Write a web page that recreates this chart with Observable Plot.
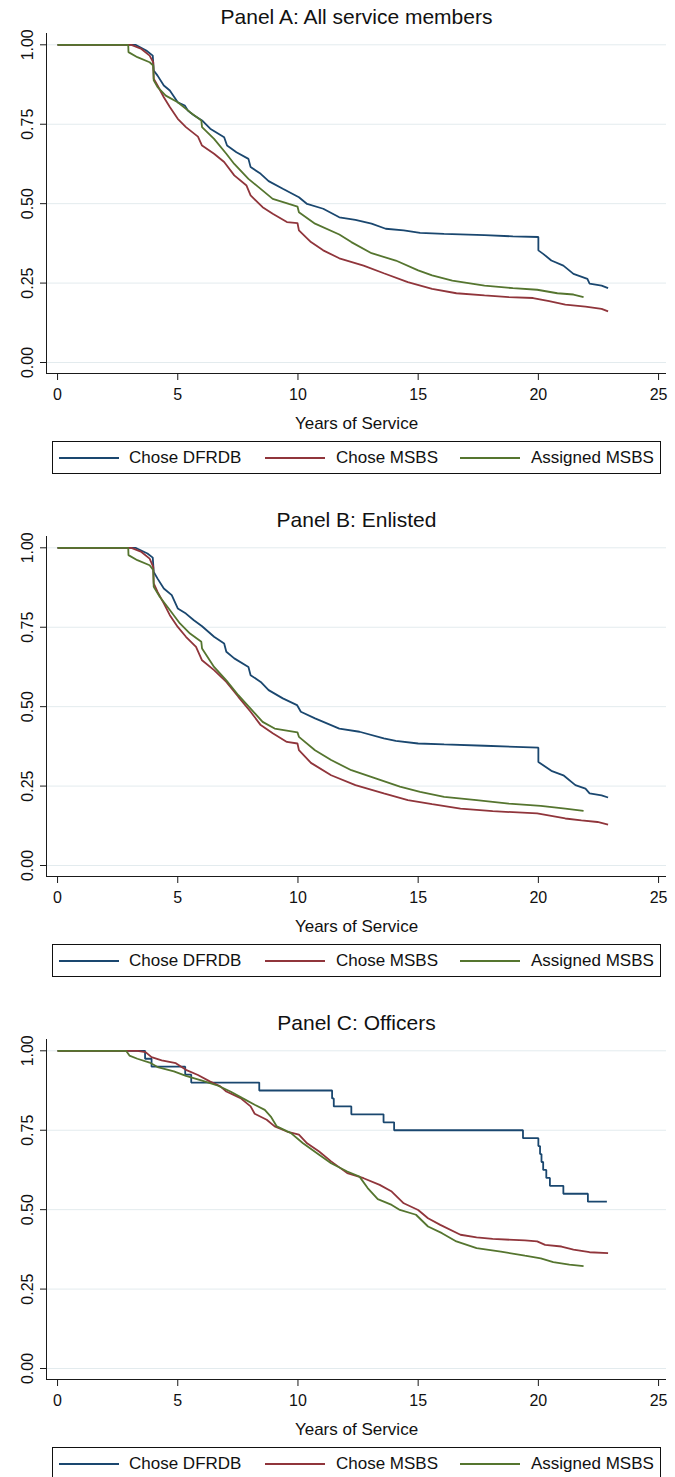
<!DOCTYPE html>
<html><head><meta charset="utf-8">
<script src="https://cdn.jsdelivr.net/npm/d3@7"></script>
<script src="https://cdn.jsdelivr.net/npm/@observablehq/plot@0.6"></script>
<style>
html,body{margin:0;padding:0;background:#fff;width:675px;height:1477px;overflow:hidden;}
body{font-family:"Liberation Sans",Arial,Helvetica,sans-serif;color:#111;}
.panel{position:relative;width:675px;height:503px;}
.title{height:33px;line-height:33px;font-size:21px;text-align:center;padding-left:38px;box-sizing:border-box;white-space:nowrap;}
.plot svg{display:block;}
.legend{position:absolute;left:52px;top:441px;width:609px;height:33px;border:1px solid #111;box-sizing:border-box;}
.legend .sw{position:absolute;top:15px;height:1.6px;}
.legend .lb{position:absolute;top:0;line-height:31px;font-size:17px;white-space:nowrap;}
</style></head><body><div id="root"></div>
<script>
const panelTitles = ["Panel A: All service members", "Panel B: Enlisted", "Panel C: Officers"];
const seriesNames = ["Chose DFRDB", "Chose MSBS", "Assigned MSBS"];
const xTicks = [0, 5, 10, 15, 20, 25];
const yTicks = [0, 0.25, 0.5, 0.75, 1];
const xAxisTitle = "Years of Service";

// Panel A: All service members
const aDfrdbT = [0, 3.24, 3.69, 3.96, 4.0, 4.16, 4.42, 4.67, 5.0, 5.29, 5.42, 5.67, 6.01, 6.35, 6.93, 7.05, 7.44, 7.94, 8.03, 8.45, 8.78, 9.37, 10.04, 10.38, 11.05, 11.72, 12.39, 13.06, 13.65, 14.4, 15.08, 16.08, 17.76, 18.94, 20.0, 20.0, 20.2, 20.54, 21.04, 21.46, 22.04, 22.13, 22.63, 22.9];
const aDfrdbS = [1, 1, 0.982, 0.966, 0.919, 0.903, 0.872, 0.856, 0.819, 0.809, 0.793, 0.778, 0.762, 0.736, 0.709, 0.683, 0.662, 0.641, 0.615, 0.594, 0.571, 0.547, 0.520, 0.499, 0.484, 0.457, 0.449, 0.437, 0.421, 0.416, 0.408, 0.405, 0.401, 0.397, 0.395, 0.353, 0.342, 0.321, 0.305, 0.279, 0.263, 0.248, 0.242, 0.234];
const aChoseT = [0, 3.07, 3.49, 3.83, 3.98, 4.0, 4.16, 4.42, 4.67, 5.0, 5.34, 5.84, 6.01, 6.51, 6.93, 7.35, 7.86, 8.03, 8.53, 8.95, 9.54, 9.98, 10.04, 10.54, 11.05, 11.72, 12.73, 13.57, 14.57, 15.58, 16.59, 17.76, 18.77, 19.78, 20.45, 21.12, 21.96, 22.63, 22.9];
const aChoseS = [1, 1, 0.987, 0.966, 0.945, 0.893, 0.872, 0.835, 0.804, 0.767, 0.741, 0.711, 0.683, 0.657, 0.631, 0.589, 0.557, 0.526, 0.489, 0.468, 0.442, 0.439, 0.416, 0.379, 0.353, 0.328, 0.305, 0.281, 0.253, 0.232, 0.218, 0.211, 0.206, 0.203, 0.193, 0.182, 0.176, 0.169, 0.161];
const aAssignT = [0, 2.94, 2.95, 3.32, 3.83, 3.98, 4.0, 4.16, 4.5, 5.0, 5.51, 5.98, 6.01, 6.51, 7.02, 7.35, 7.94, 8.36, 8.95, 9.62, 9.98, 10.04, 10.71, 11.72, 12.22, 13.06, 14.07, 15.0, 15.58, 16.42, 17.76, 18.94, 19.95, 20.79, 21.46, 21.88];
const aAssignS = [1, 1, 0.977, 0.961, 0.945, 0.935, 0.888, 0.867, 0.84, 0.819, 0.788, 0.762, 0.741, 0.704, 0.657, 0.625, 0.578, 0.552, 0.515, 0.499, 0.491, 0.473, 0.437, 0.403, 0.379, 0.344, 0.321, 0.29, 0.274, 0.258, 0.242, 0.234, 0.229, 0.218, 0.214, 0.206];

// Panel B: Enlisted
const bDfrdbT = [0, 3.24, 3.74, 3.96, 4.0, 4.16, 4.42, 4.75, 5.0, 5.34, 5.67, 6.01, 6.51, 6.93, 7.02, 7.35, 7.94, 8.03, 8.45, 8.78, 9.37, 9.96, 10.12, 10.71, 11.72, 12.56, 13.57, 14.07, 15.0, 16.08, 17.76, 20.0, 20.0, 20.54, 21.04, 21.54, 21.96, 22.13, 22.63, 22.9];
const bDfrdbS = [1, 1, 0.982, 0.969, 0.924, 0.903, 0.872, 0.851, 0.809, 0.793, 0.772, 0.753, 0.72, 0.699, 0.673, 0.652, 0.625, 0.599, 0.578, 0.552, 0.526, 0.505, 0.484, 0.463, 0.431, 0.421, 0.4, 0.392, 0.384, 0.381, 0.377, 0.371, 0.326, 0.298, 0.284, 0.253, 0.242, 0.227, 0.221, 0.214];
const bChoseT = [0, 3.07, 3.49, 3.83, 3.98, 4.0, 4.16, 4.42, 4.67, 5.0, 5.34, 5.76, 6.01, 6.51, 7.02, 7.52, 8.03, 8.45, 8.95, 9.54, 9.98, 10.04, 10.54, 11.38, 12.39, 13.57, 14.57, 15.58, 16.76, 18.1, 19.95, 21.12, 21.79, 22.46, 22.9];
const bChoseS = [1, 1, 0.987, 0.966, 0.94, 0.888, 0.861, 0.825, 0.788, 0.751, 0.72, 0.688, 0.646, 0.615, 0.578, 0.531, 0.484, 0.442, 0.416, 0.389, 0.384, 0.363, 0.323, 0.284, 0.253, 0.227, 0.206, 0.193, 0.179, 0.171, 0.164, 0.148, 0.142, 0.137, 0.129];
const bAssignT = [0, 2.94, 2.95, 3.32, 3.83, 3.98, 4.0, 4.25, 4.67, 5.09, 5.51, 5.98, 6.01, 6.51, 7.02, 7.52, 8.03, 8.53, 9.03, 9.98, 10.04, 10.71, 11.38, 12.22, 13.23, 14.24, 15.08, 16.08, 17.43, 18.77, 20.1, 21.12, 21.88];
const bAssignS = [1, 1, 0.977, 0.961, 0.945, 0.93, 0.877, 0.846, 0.804, 0.762, 0.73, 0.704, 0.683, 0.625, 0.583, 0.536, 0.494, 0.452, 0.431, 0.419, 0.405, 0.363, 0.332, 0.3, 0.274, 0.248, 0.232, 0.216, 0.206, 0.195, 0.188, 0.179, 0.172];

// Panel C: Officers
const cDfrdbT = [0, 3.64, 3.91, 5.31, 5.56, 8.39, 11.42, 11.49, 12.22, 13.56, 14.0, 19.36, 20.0, 20.07, 20.13, 20.2, 20.33, 20.48, 21.04, 22.06, 22.85];
const cDfrdbS = [1, 0.975, 0.95, 0.925, 0.9, 0.875, 0.85, 0.825, 0.8, 0.775, 0.75, 0.725, 0.7, 0.675, 0.65, 0.625, 0.6, 0.575, 0.55, 0.525, 0.525];
const cChoseT = [0, 3.32, 3.66, 3.91, 4.33, 4.92, 5.34, 5.84, 6.35, 6.77, 7.02, 7.61, 8.03, 8.2, 8.7, 9.03, 9.54, 10.04, 10.38, 10.88, 11.38, 12.05, 12.73, 13.4, 13.9, 14.4, 15.0, 15.41, 15.92, 16.76, 17.43, 18.1, 19.44, 19.95, 20.28, 20.96, 21.46, 22.13, 22.9];
const cChoseS = [1, 1, 0.996, 0.98, 0.97, 0.961, 0.94, 0.924, 0.903, 0.888, 0.872, 0.851, 0.825, 0.802, 0.783, 0.762, 0.746, 0.736, 0.709, 0.683, 0.652, 0.615, 0.599, 0.578, 0.557, 0.52, 0.499, 0.473, 0.452, 0.421, 0.413, 0.408, 0.403, 0.4, 0.389, 0.384, 0.374, 0.366, 0.363];
const cAssignT = [0, 2.85, 2.99, 3.32, 3.83, 4.16, 4.84, 5.34, 6.01, 6.68, 7.19, 7.69, 8.2, 8.62, 8.87, 9.12, 9.71, 10.21, 10.88, 11.38, 12.05, 12.56, 12.9, 13.32, 13.9, 14.24, 14.91, 15.41, 15.99, 16.59, 17.43, 18.44, 19.44, 20.1, 20.62, 21.29, 21.88];
const cAssignS = [1, 1, 0.985, 0.975, 0.963, 0.949, 0.935, 0.921, 0.906, 0.89, 0.872, 0.851, 0.83, 0.814, 0.793, 0.762, 0.741, 0.709, 0.673, 0.646, 0.62, 0.604, 0.568, 0.533, 0.515, 0.499, 0.484, 0.447, 0.426, 0.4, 0.379, 0.368, 0.355, 0.347, 0.335, 0.327, 0.322];

const colors = ["#1a476f", "#90353b", "#55752f"];
const gridColor = "#e3ebee";
const axisColor = "#1a1a1a";
const xDomain = [-0.46, 25.33];
const yDomain = [-0.0346, 1.0356];

const panels = [
  {title: panelTitles[0], series: [[aDfrdbT, aDfrdbS], [aChoseT, aChoseS], [aAssignT, aAssignS]], steps: [false, false, false]},
  {title: panelTitles[1], series: [[bDfrdbT, bDfrdbS], [bChoseT, bChoseS], [bAssignT, bAssignS]], steps: [false, false, false]},
  {title: panelTitles[2], series: [[cDfrdbT, cDfrdbS], [cChoseT, cChoseS], [cAssignT, cAssignS]], steps: [true, false, false]}
];

function rows(t, s) { return t.map((d, i) => ({t: d, s: s[i]})); }

const root = document.getElementById("root");
panels.forEach(p => {
  const panel = document.createElement("div");
  panel.className = "panel";
  const title = document.createElement("div");
  title.className = "title";
  title.textContent = p.title;
  panel.appendChild(title);

  const lineMarks = p.series.map((sr, i) => Plot.line(rows(sr[0], sr[1]), {
    x: "t", y: "s", stroke: colors[i], strokeWidth: 1.8,
    strokeLinejoin: "miter", strokeLinecap: "butt",
    curve: p.steps[i] ? "step-after" : "linear"
  }));

  const chart = Plot.plot({
    width: 675, height: 402,
    marginLeft: 46, marginRight: 9, marginTop: 0, marginBottom: 62,
    style: {fontFamily: '"Liberation Sans", Arial, Helvetica, sans-serif', fontSize: "16px", color: "#111", background: "#fff", overflow: "visible"},
    x: {domain: xDomain},
    y: {domain: yDomain},
    marks: [
      Plot.ruleY(yTicks, {stroke: gridColor, strokeWidth: 1}),
      Plot.ruleX([xDomain[0]], {stroke: axisColor, strokeWidth: 1}),
      Plot.ruleY([yDomain[0]], {stroke: axisColor, strokeWidth: 1}),
      Plot.axisY({ticks: yTicks, tickSize: 6, tickPadding: 8, tickRotate: -90, tickFormat: d3.format(".2f"), label: null, stroke: axisColor}),
      Plot.axisX({ticks: xTicks, tickSize: 7, tickPadding: 8, tickFormat: d => String(d), label: null, stroke: axisColor}),
      ...lineMarks,
      Plot.text([xAxisTitle], {text: d => d, frameAnchor: "bottom", dy: 55, lineAnchor: "bottom", fontSize: 17, fill: "#111"})
    ]
  });
  const holder = document.createElement("div");
  holder.className = "plot";
  holder.appendChild(chart);
  panel.appendChild(holder);

  const legend = document.createElement("div");
  legend.className = "legend";
  const swLeft = [6, 212, 407];
  const lbLeft = [76, 283, 478];
  seriesNames.forEach((name, i) => {
    const sw = document.createElement("div");
    sw.className = "sw";
    sw.style.left = swLeft[i] + "px";
    sw.style.width = "60px";
    sw.style.background = colors[i];
    legend.appendChild(sw);
    const lb = document.createElement("div");
    lb.className = "lb";
    lb.style.left = lbLeft[i] + "px";
    lb.textContent = name;
    legend.appendChild(lb);
  });
  panel.appendChild(legend);
  root.appendChild(panel);
});
</script></body></html>
